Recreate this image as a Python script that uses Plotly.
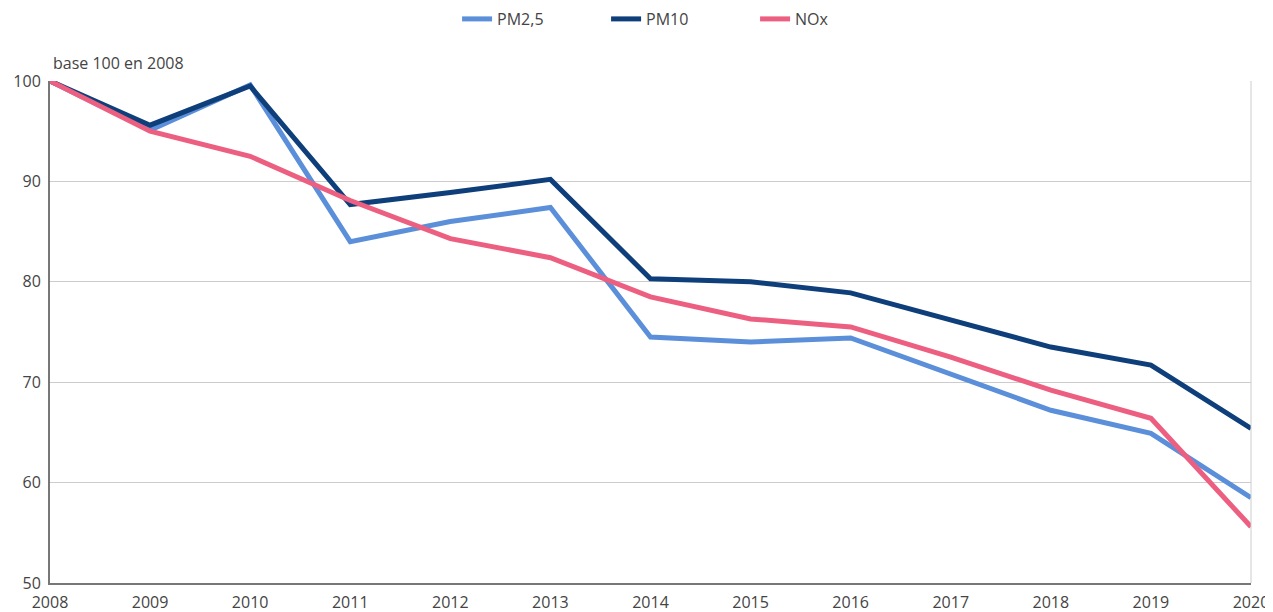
import plotly.graph_objects as go

years = list(range(2008, 2021))
pm25 = [100, 95.1, 99.6, 84.0, 86.0, 87.4, 74.5, 74.0, 74.4, 70.8, 67.2, 64.9, 58.5]
pm10 = [100, 95.6, 99.5, 87.7, 88.9, 90.2, 80.3, 80.0, 78.9, 76.2, 73.5, 71.7, 65.4]
nox = [100, 95.0, 92.5, 88.1, 84.3, 82.4, 78.5, 76.3, 75.5, 72.5, 69.2, 66.4, 55.6]

series = [
    ("PM2,5", pm25, "#5b8fd9"),
    ("PM10", pm10, "#0e3f7a"),
    ("NOx", nox, "#ed5f80"),
]

# the page body adds an 8px offset, so the figure is sized to fit the window
W, H = 1265, 604

fig = go.Figure()
for name, vals, color in series:
    fig.add_trace(go.Scatter(
        x=years, y=vals, name=name, mode="lines",
        line=dict(color=color, width=5),
    ))

fig.update_layout(
    width=W, height=H,
    margin=dict(l=42, r=22, t=73, b=29, autoexpand=False),
    paper_bgcolor="white", plot_bgcolor="white",
    font=dict(family="Open Sans", size=16, color="#444"),
    showlegend=True,
    legend=dict(orientation="h", x=0.355, xanchor="left", xref="container",
                y=1 - 11 / H, yanchor="middle", yref="container",
                entrywidth=104, entrywidthmode="pixels",
                font=dict(size=16, color="#444")),
    xaxis=dict(range=[2008, 2020], tickvals=years, showgrid=False,
               showline=True, linecolor="#777", linewidth=2, ticks="",
               automargin=False, ticklabelstandoff=4, ticklabeloverflow="allow",
               tickfont=dict(size=16, color="#444")),
    yaxis=dict(range=[50, 100], tickvals=[50, 60, 70, 80, 90, 100],
               showgrid=True, gridcolor="#cccccc", gridwidth=1,
               showline=True, linecolor="#777", linewidth=2, ticks="",
               automargin=False, ticklabelstandoff=4,
               zeroline=False, tickfont=dict(size=16, color="#444")),
    annotations=[dict(text="base 100 en 2008", xref="paper", yref="paper",
                      x=0, y=1.010, xanchor="left", yanchor="bottom", xshift=1,
                      showarrow=False, font=dict(size=16, color="#444"))],
    shapes=[dict(type="line", xref="paper", yref="paper", x0=1, x1=1, y0=0, y1=1,
                 line=dict(color="#cccccc", width=1))],
)

fig.write_html("out.html")
